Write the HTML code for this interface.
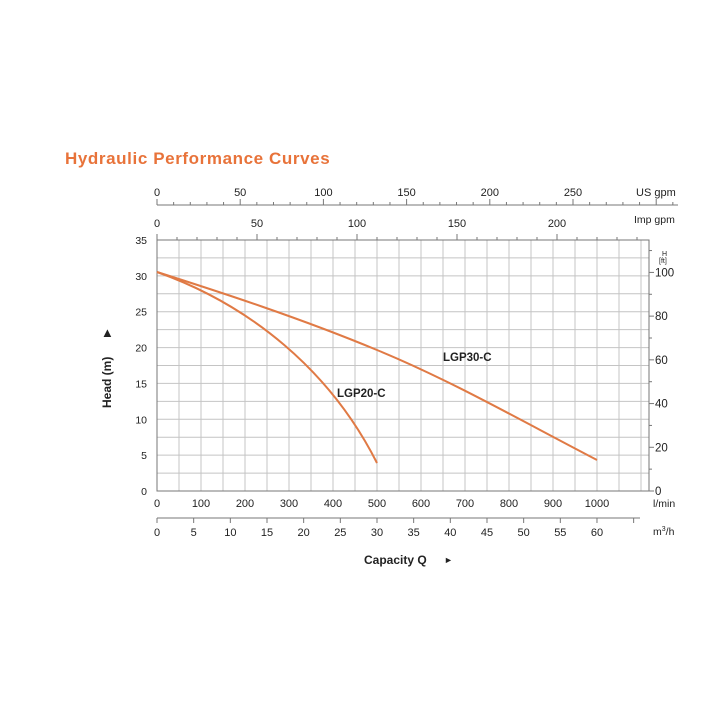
<!DOCTYPE html>
<html><head><meta charset="utf-8"><style>
html,body{margin:0;padding:0;background:#fff;width:726px;height:726px;overflow:hidden}
svg{display:block}
text{font-family:"Liberation Sans",sans-serif;fill:#222}
</style></head><body>
<svg id="s" width="726" height="726" viewBox="0 0 726 726" xmlns="http://www.w3.org/2000/svg">
<text x="65" y="164" font-size="17" font-weight="bold" letter-spacing="0.6" style="fill:#e8733a">Hydraulic Performance Curves</text>
<g id="g"></g>
<path d="M157,272 C220,292 300,318 377,350 C450,380 520,420 597,460" fill="none" stroke="#e07a45" stroke-width="2"/>
<path d="M157,272 C250,305 330,370 377,463" fill="none" stroke="#e07a45" stroke-width="2"/>
<text x="443" y="361" font-size="11.5" font-weight="bold">LGP30-C</text>
<text x="337" y="397" font-size="11.5" font-weight="bold">LGP20-C</text>
<text x="0" y="0" font-size="12" font-weight="bold" transform="translate(111,408) rotate(-90)">Head (m)</text>
<text x="110" y="337" font-size="10" transform="rotate(-90 110 337)">▶</text>
<text x="364" y="564" font-size="12" font-weight="bold">Capacity Q</text>
<text x="444" y="563" font-size="9">►</text>
<text x="636" y="196" font-size="11">US gpm</text>
<text x="634" y="223" font-size="10.5">Imp gpm</text>
<text x="662" y="256" font-size="7">H</text>
<text x="659" y="263" font-size="7">[ft]</text>
<text x="653" y="507" font-size="10.5">l/min</text>
<text x="653" y="535" font-size="10.5">m<tspan font-size="7" dy="-4">3</tspan><tspan dy="4">/h</tspan></text>
</svg>
<script>
var g=document.getElementById('g'),h='';
function L(x1,y1,x2,y2,c,w){h+='<line x1="'+x1+'" y1="'+y1+'" x2="'+x2+'" y2="'+y2+'" stroke="'+c+'" stroke-width="'+(w||1)+'"/>';}
function T(x,y,s,a,fs){h+='<text x="'+x+'" y="'+y+'" font-size="'+(fs||11)+'" text-anchor="'+(a||'middle')+'">'+s+'</text>';}
var X0=157,X1=649,Y0=491,Y1=240,py=251/35;
for(var k=1;k*22+X0<X1;k++)L(X0+k*22,Y1,X0+k*22,Y0,'#c4c4c4');
for(var m=2.5;m<35;m+=2.5)L(X0,Y0-m*py,X1,Y0-m*py,'#c4c4c4');
h+='<rect x="'+X0+'" y="'+Y1+'" width="'+(X1-X0)+'" height="'+(Y0-Y1)+'" fill="none" stroke="#777"/>';
for(var m=0;m<=35;m+=5)T(147,Y0-m*py+4,m,'end',10.5);
for(var q=0;q<=1000;q+=100)T(X0+q*0.44,507,q,'middle',11);
L(X0,205,678,205,'#777');
for(var u=0;u*1.664+X0<=678;u+=10){L(X0+u*1.664,205,X0+u*1.664,u%50?202:199,'#777');}
for(var u=0;u<=250;u+=50)T(X0+u*1.664,196,u);
for(var u=0;u*2+X0<=X1;u+=10){L(X0+u*2,Y1,X0+u*2,u%50?Y1-3:Y1-6,'#777');}
for(var u=0;u<=200;u+=50)T(X0+u*2,227,u);
for(var f=0;f<=100;f+=20){var y=Y0-f*0.3048*py;L(X1,y,X1+5,y,'#777');T(655,y+4,f,'start',11.5);}
for(var f=10;f<=110;f+=20){var y=Y0-f*0.3048*py;L(X1,y,X1+3,y,'#777');}
L(X0,518,640,518,'#777');
for(var c=0;c*7.333+X0<=640;c+=5){L(X0+c*7.333,518,X0+c*7.333,523,'#777');}
for(var c=0;c<=60;c+=5)T(X0+c*7.333,536,c,'middle',11);
g.innerHTML=h;
</script>
</body></html>
